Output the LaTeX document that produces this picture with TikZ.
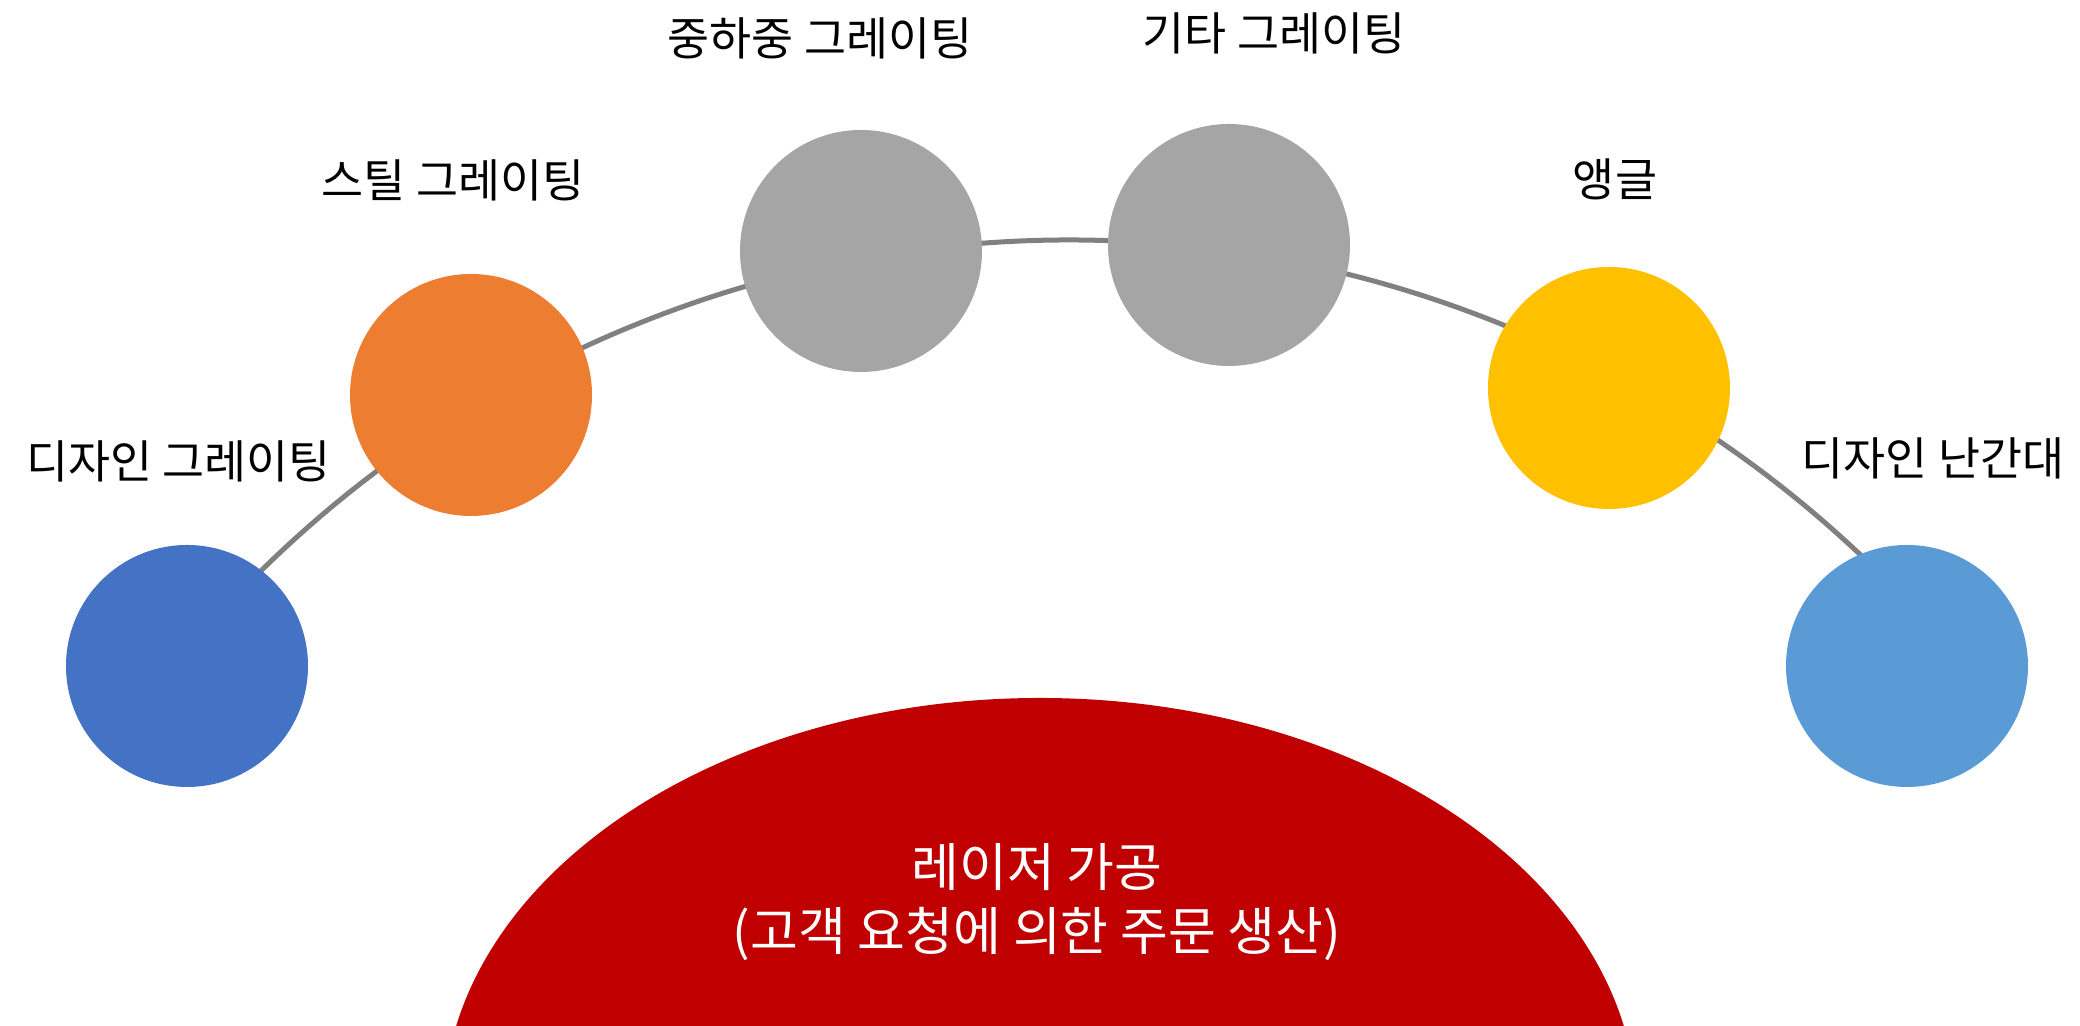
\documentclass[tikz,border=0pt]{standalone}
\usepackage{fontspec}
\setmainfont{Noto Sans CJK KR}
\definecolor{bl}{RGB}{68, 114, 196}
\definecolor{or}{RGB}{237, 125, 49}
\definecolor{gr}{RGB}{165, 165, 165}
\definecolor{ye}{RGB}{255, 192, 0}
\definecolor{lb}{RGB}{91, 155, 213}
\definecolor{rd}{RGB}{192, 0, 0}
\definecolor{ln}{RGB}{128, 128, 128}
\begin{document}
\begin{tikzpicture}[dot/.style={circle, minimum size=2.42cm, inner sep=0pt},
		tag/.style={inner sep=0pt, font=\fontsize{13}{15}\selectfont}]
	\useasboundingbox (0,0) rectangle (20.8,10.26);
	\begin{scope}
		\clip (0,0) rectangle (20.8,10.26);
		\fill[rd] (10.40,-0.87) ellipse [x radius=5.97, y radius=4.15]; % la base
	\end{scope}
	\node[text=white, align=center, font=\fontsize{14.8}{18.4}\selectfont] (laser) at (10.37,1.24) {레이저 가공\\(고객 요청에 의한 주문 생산)};
	\coordinate (hub) at (10.69,-3.66);
	\draw[ln, line width=0.05cm] ([shift={(138:11.52)}]hub) arc [start angle=138, end angle=43, radius=11.52];
	\node[dot, fill=bl] (design) at (1.87,3.60) {};
	\node[dot, fill=or] (steel) at (4.71,6.31) {};
	\node[dot, fill=gr] (heavy) at (8.61,7.75) {};
	\node[dot, fill=gr] (other) at (12.29,7.81) {};
	\node[dot, fill=ye] (angle) at (16.09,6.38) {};
	\node[dot, fill=lb] (rail) at (19.07,3.60) {};
	\node[tag] (design-l) at (1.785,5.65) {디자인 그레이팅};
	\node[tag] (steel-l) at (4.53,8.46) {스틸 그레이팅};
	\node[tag] (heavy-l) at (8.20,9.88) {중하중 그레이팅};
	\node[tag] (other-l) at (12.74,9.93) {기타 그레이팅};
	\node[tag] (angle-l) at (16.15,8.47) {앵글};
	\node[tag] (rail-l) at (19.33,5.68) {디자인 난간대};
\end{tikzpicture}
\end{document}
